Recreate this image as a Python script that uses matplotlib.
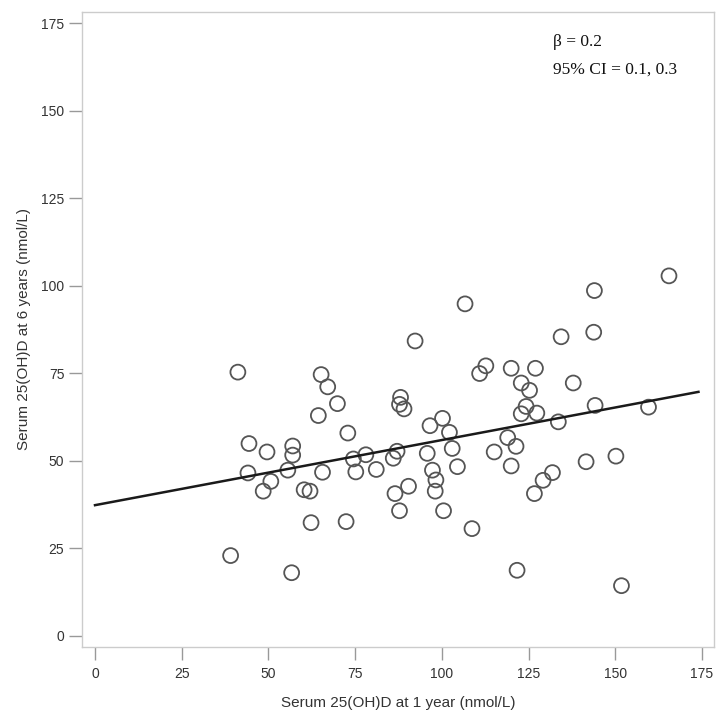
import numpy as np
import matplotlib
matplotlib.use("Agg")
import matplotlib.pyplot as plt

# serum 25(OH)D at 1 year (x) and 6 years (y), nmol/L
vit_d_1y = [41.2, 44.4, 44.1, 49.6, 50.7, 48.5, 57.0, 57.0, 55.6, 65.2,
            67.1, 69.9, 64.4, 72.9, 65.6, 60.3, 62.0, 62.3, 72.4, 39.1,
            56.7, 74.5, 75.2, 78.1, 81.1, 87.1, 86.0, 88.1, 87.8, 89.1,
            86.5, 90.4, 87.8, 96.6, 100.2, 102.2, 103.0, 95.8, 97.3, 98.3,
            98.1, 100.5, 92.3, 104.5, 106.7, 144.0, 165.5, 134.4, 143.8, 112.7,
            110.9, 120.0, 127.0, 122.9, 125.3, 137.9, 124.3, 122.9, 127.4, 144.2,
            159.6, 133.6, 119.0, 121.4, 115.1, 120.0, 141.6, 150.2, 131.9, 129.2,
            126.7, 108.7, 121.7, 151.8]
vit_d_6y = [75.3, 54.9, 46.5, 52.5, 44.1, 41.3, 54.2, 51.6, 47.3, 74.6,
            71.1, 66.3, 62.9, 57.9, 46.7, 41.7, 41.3, 32.3, 32.6, 22.9,
            18.0, 50.5, 46.8, 51.7, 47.5, 52.7, 50.7, 68.1, 66.1, 64.8,
            40.6, 42.7, 35.7, 60.0, 62.1, 58.1, 53.5, 52.1, 47.3, 44.5,
            41.3, 35.7, 84.2, 48.3, 94.8, 98.6, 102.8, 85.4, 86.7, 77.1,
            74.9, 76.4, 76.4, 72.2, 70.1, 72.2, 65.5, 63.4, 63.6, 65.8,
            65.3, 61.1, 56.6, 54.1, 52.5, 48.5, 49.7, 51.3, 46.6, 44.4,
            40.6, 30.6, 18.7, 14.3]

# fitted regression line
fit_intercept = 37.3
fit_slope = 0.186
fit_x = np.array([0, 174])

ticks = [0, 25, 50, 75, 100, 125, 150, 175]

fig = plt.figure(figsize=(7.22, 7.21), dpi=100, facecolor='white')
ax = fig.add_axes([0.114, 0.103, 0.875, 0.880])

ax.scatter(vit_d_1y, vit_d_6y, s=115, facecolors='none', edgecolors='#555555',
           linewidths=1.3, zorder=2)
ax.plot(fit_x, fit_intercept + fit_slope * fit_x, color='#1a1a1a', linewidth=1.8, zorder=3)

ax.set_xlim(-3.66, 178.5)
ax.set_ylim(-3.14, 178.1)
ax.set_xticks(ticks)
ax.set_yticks(ticks)

for spine in ax.spines.values():
    spine.set_edgecolor('#cccccc')
    spine.set_linewidth(1.0)
ax.tick_params(axis='both', length=9.5, width=1.0, color='#999999',
               labelcolor='#333333', labelsize=10)
ax.tick_params(axis='x', pad=5)
ax.tick_params(axis='y', pad=3.5)
for lab in ax.get_xticklabels() + ax.get_yticklabels():
    lab.set_family('Liberation Sans')

ax.set_xlabel("Serum 25(OH)D at 1 year (nmol/L)", fontsize=11, color='#333333',
              family='Liberation Sans', labelpad=11)
ax.set_ylabel("Serum 25(OH)D at 6 years (nmol/L)", fontsize=11, color='#333333',
              family='Liberation Sans', labelpad=7)

ax.text(0.745, 0.953, "β = 0.2", transform=ax.transAxes, fontsize=12.5,
        family='Liberation Serif', color='#111111', va='center')
ax.text(0.745, 0.909, "95% CI = 0.1, 0.3", transform=ax.transAxes, fontsize=12.5,
        family='Liberation Serif', color='#111111', va='center')

fig.savefig('out.png', dpi=100, facecolor='white')
